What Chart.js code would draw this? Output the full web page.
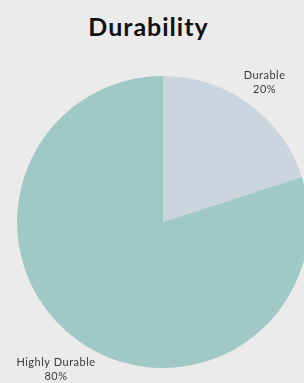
<!DOCTYPE html>
<html>
<head>
<meta charset="utf-8">
<script src="https://cdn.jsdelivr.net/npm/chart.js@4/dist/chart.umd.min.js"></script>
<style>
  html, body { margin: 0; padding: 0; }
  body { width: 304px; height: 383px; overflow: hidden; background: #ebebeb; position: relative; font-family: Lato, "Open Sans", sans-serif; }
  #title { position: absolute; left: 0; top: 14px; width: 297px; text-align: center; font-size: 25px; line-height: 25px; font-weight: bold; letter-spacing: 1px; color: #111; }
  #wrap { position: absolute; left: -17px; top: 42px; width: 360px; height: 360px; }
</style>
</head>
<body>
<div id="title">Durability</div>
<div id="wrap"><canvas id="pie" width="360" height="360"></canvas></div>
<script>
// ---------- data ----------
const categories = ['Durable', 'Highly Durable'];
const shares = [20, 80];
const sliceColors = ['#cbd5e0', '#a0c8c4'];

// labels outside each slice, pushed out along the middle ray until the box clears the pie
const outsideLabels = {
    id: 'outsideLabels',
    afterDatasetsDraw(chart) {
        const ctx = chart.ctx;
        const meta = chart.getDatasetMeta(0);
        const total = shares.reduce((a, b) => a + b, 0);
        const lineH = 14;
        ctx.save();
        ctx.font = '11px Lato, "Open Sans", sans-serif';
        ctx.letterSpacing = '0.5px';
        ctx.fillStyle = '#3a3a3a';
        ctx.textAlign = 'center';
        ctx.textBaseline = 'middle';
        meta.data.forEach(function (arc, i) {
            const lines = [categories[i], Math.round(shares[i] / total * 100) + '%'];
            const w = Math.max.apply(null, lines.map(t => ctx.measureText(t).width));
            const h = lineH * lines.length - 6;
            const mid = (arc.startAngle + arc.endAngle) / 2;
            const ux = Math.cos(mid), uy = Math.sin(mid);
            const target = arc.outerRadius + 6;
            let lo = 0, hi = arc.outerRadius + 120;
            for (let k = 0; k < 40; k++) {
                const d = (lo + hi) / 2;
                const cx = d * ux - Math.sign(ux) * w / 2;
                const cy = d * uy - Math.sign(uy) * h / 2;
                if (Math.hypot(cx, cy) < target) lo = d; else hi = d;
            }
            const x = arc.x + hi * ux;
            const y = arc.y + hi * uy;
            lines.forEach(function (t, j) {
                ctx.fillText(t, x, y + (j - (lines.length - 1) / 2) * lineH);
            });
        });
        ctx.restore();
    }
};

new Chart(document.getElementById('pie'), {
    type: 'pie',
    data: {
        labels: categories,
        datasets: [{
            data: shares,
            backgroundColor: sliceColors,
            borderWidth: 0
        }]
    },
    options: {
        responsive: false,
        animation: false,
        layout: { padding: 34 },
        plugins: {
            legend: { display: false },
            tooltip: { enabled: false }
        }
    },
    plugins: [outsideLabels]
});
</script>
</body>
</html>
